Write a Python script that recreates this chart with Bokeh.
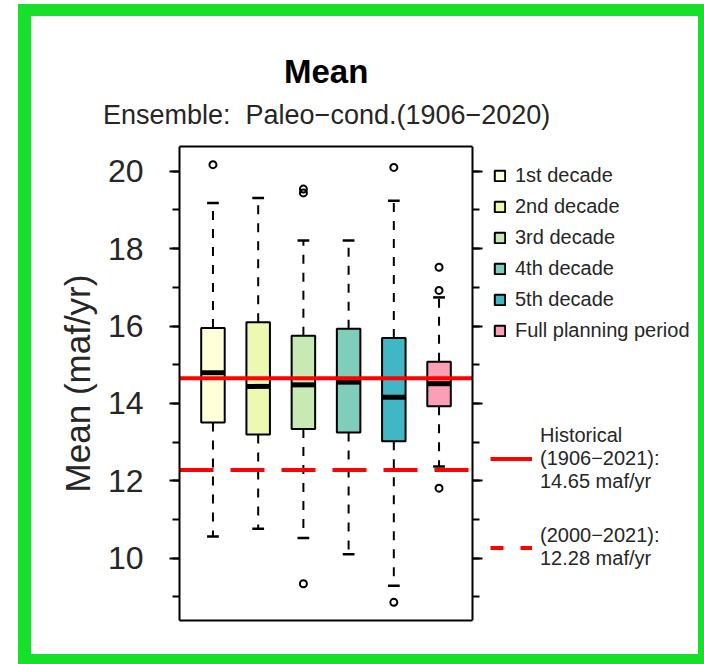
from bokeh.plotting import figure
from bokeh.models import (Range1d, SingleIntervalTicker, FixedTicker, LinearAxis,
                          Legend, LegendItem, Title)
from bokeh.embed import file_html
from bokeh.resources import INLINE

# Box-plot statistics of the ensemble mean (maf/yr)
categories = ["1st decade", "2nd decade", "3rd decade", "4th decade", "5th decade",
              "Full planning period"]
colors = ["#FFFFD9", "#EDF8B1", "#C7E9B4", "#7FCDBB", "#41B6C4", "#FA9FB5"]
lower_whisker = [10.56, 10.76, 10.52, 10.10, 9.29, 12.37]
q1 = [13.51, 13.20, 13.34, 13.25, 13.02, 13.93]
median = [14.79, 14.44, 14.48, 14.55, 14.16, 14.51]
q3 = [15.95, 16.10, 15.75, 15.93, 15.69, 15.08]
upper_whisker = [19.18, 19.31, 18.21, 18.21, 19.24, 16.74]

# Outliers: (box number, value)
outlier_box = [1, 3, 3, 3, 5, 5, 6, 6, 6]
outlier_val = [20.17, 19.54, 19.44, 9.34, 20.10, 8.86, 17.52, 16.92, 11.81]

# Historical reference means
hist_full = 14.65     # 1906-2021
hist_recent = 12.28   # 2000-2021

FONT = "Liberation Sans"
TXT = "#262626"
GREEN = "#17E02A"

pos = list(range(1, len(categories) + 1))
box_w = 0.52
cap_half = box_w / 4

# plotting box limits (data units) and pixel layout of the canvas
x_lo, x_hi = 0.26, 6.74
y_lo, y_hi = 8.39, 20.64
BOX_PX = 293             # width of the plotting box
FRAME_PX = 519           # frame also hosts the keys to the right of the box
x_end = x_lo + (x_hi - x_lo) * FRAME_PX / BOX_PX

p = figure(width=686, height=660,
           x_range=Range1d(x_lo, x_end), y_range=Range1d(y_lo, y_hi),
           output_backend="svg", toolbar_location=None,
           x_axis_location=None, y_axis_location="left",
           min_border_left=148, min_border_right=19,
           min_border_top=130, min_border_bottom=56,
           background_fill_color="white", border_fill_color="white",
           outline_line_color=None)
p.grid.visible = False
p.styles = {"border-style": "solid", "border-color": GREEN,
            "border-width": "12px 6px 10px 13px",
            "margin-left": "18px", "margin-top": "4px"}

ticker = SingleIntervalTicker(interval=2, num_minor_ticks=2)
ax = p.yaxis[0]
ax.ticker = ticker
ax.axis_label = "Mean (maf/yr)"
ax.axis_label_text_font = FONT
ax.axis_label_text_font_size = "35px"
ax.axis_label_text_font_style = "normal"
ax.axis_label_text_color = TXT
ax.axis_label_standoff = 8
ax.major_label_text_font = FONT
ax.major_label_text_font_size = "32px"
ax.major_label_text_color = TXT
ax.major_label_standoff = 26
ax.axis_line_width = 2
ax.major_tick_line_width = 2
ax.minor_tick_line_width = 2
ax.major_tick_out = 10
ax.major_tick_in = 0
ax.minor_tick_out = 7
ax.minor_tick_in = 0

# right-hand edge of the box, ticks pointing outwards (to the right)
rax = LinearAxis(ticker=ticker, fixed_location=x_hi,
                 major_label_text_font_size="1px", major_label_text_alpha=0,
                 major_label_standoff=0, axis_line_width=2,
                 major_tick_line_width=2, minor_tick_line_width=2,
                 major_tick_out=0, major_tick_in=10,
                 minor_tick_out=0, minor_tick_in=7)
p.add_layout(rax, "left")

# top and bottom edges of the box
edge_style = dict(bounds=(x_lo, x_hi), ticker=FixedTicker(ticks=[]),
                  major_tick_out=0, major_tick_in=0,
                  minor_tick_out=0, minor_tick_in=0,
                  major_label_standoff=0, major_label_text_font_size="1px",
                  major_label_text_alpha=0, axis_line_width=2)
p.add_layout(LinearAxis(**edge_style), "below")
p.add_layout(LinearAxis(**edge_style), "above")

# titles, centred over the box
box_center_px = BOX_PX / 2
sub_text = "Ensemble:\u00a0 Paleo\u2212cond.(1906\u22122020)"
sub_width_px = 446
main_width_px = 84
p.add_layout(Title(text=sub_text, align="left",
                   offset=box_center_px - sub_width_px / 2,
                   text_font=FONT, text_font_size="27px", text_font_style="normal",
                   text_color=TXT, standoff=33), "above")
p.add_layout(Title(text="Mean", align="left",
                   offset=box_center_px - main_width_px / 2,
                   text_font=FONT, text_font_size="33px", text_font_style="bold",
                   text_color="black", standoff=-17), "above")

# whiskers
p.segment(x0=pos, y0=q3, x1=pos, y1=upper_whisker, line_color="black",
          line_width=2, line_dash="9 9")
p.segment(x0=pos, y0=q1, x1=pos, y1=lower_whisker, line_color="black",
          line_width=2, line_dash="9 9")
# staples
p.segment(x0=[x - cap_half for x in pos], y0=upper_whisker,
          x1=[x + cap_half for x in pos], y1=upper_whisker,
          line_color="black", line_width=2.5)
p.segment(x0=[x - cap_half for x in pos], y0=lower_whisker,
          x1=[x + cap_half for x in pos], y1=lower_whisker,
          line_color="black", line_width=2.5)
# boxes
boxes = p.vbar(x=pos, bottom=q1, top=q3, width=box_w, fill_color=colors,
               line_color="black", line_width=2)
# medians
p.segment(x0=[x - box_w / 2 for x in pos], y0=median,
          x1=[x + box_w / 2 for x in pos], y1=median,
          line_color="black", line_width=5, line_cap="butt")
# outliers
p.scatter(x=outlier_box, y=outlier_val, marker="circle", size=7,
          fill_color=None, line_color="black", line_width=2)

# historical means across the box
full_line = p.segment(x0=[x_lo], x1=[x_hi], y0=[hist_full], y1=[hist_full],
                      line_color="red", line_width=4)
p.segment(x0=[x_lo], x1=[x_hi], y0=[hist_recent], y1=[hist_recent],
          line_color="red", line_width=4, line_dash="34 17")
# key sample for the recent-period line (shorter dashes)
recent_key = p.segment(x0=[x_lo], x1=[x_hi], y0=[hist_recent], y1=[hist_recent],
                       line_color="red", line_width=4, line_dash="13 17",
                       visible=False)

legend_style = dict(padding=0, margin=0, border_line_alpha=0,
                    background_fill_alpha=0, label_text_font=FONT,
                    label_text_font_size="20px", label_text_color=TXT)

leg1 = Legend(items=[LegendItem(label=c, renderers=[boxes], index=i)
                     for i, c in enumerate(categories)],
              location=(314, 278), glyph_width=13, glyph_height=13,
              label_height=24, spacing=7, label_standoff=9, **legend_style)
leg2 = Legend(items=[LegendItem(label="Historical\n(1906\u22122021):\n14.65 maf/yr",
                                renderers=[full_line], index=0),
                     LegendItem(label="(2000\u22122021):\n12.28 maf/yr",
                                renderers=[recent_key], index=0)],
              location=(311, 50), glyph_width=42, glyph_height=13,
              spacing=31, label_standoff=8, label_text_line_height=1.25,
              **legend_style)
p.add_layout(leg1)
p.add_layout(leg2)

open("out.html", "w").write(file_html(p, INLINE))
